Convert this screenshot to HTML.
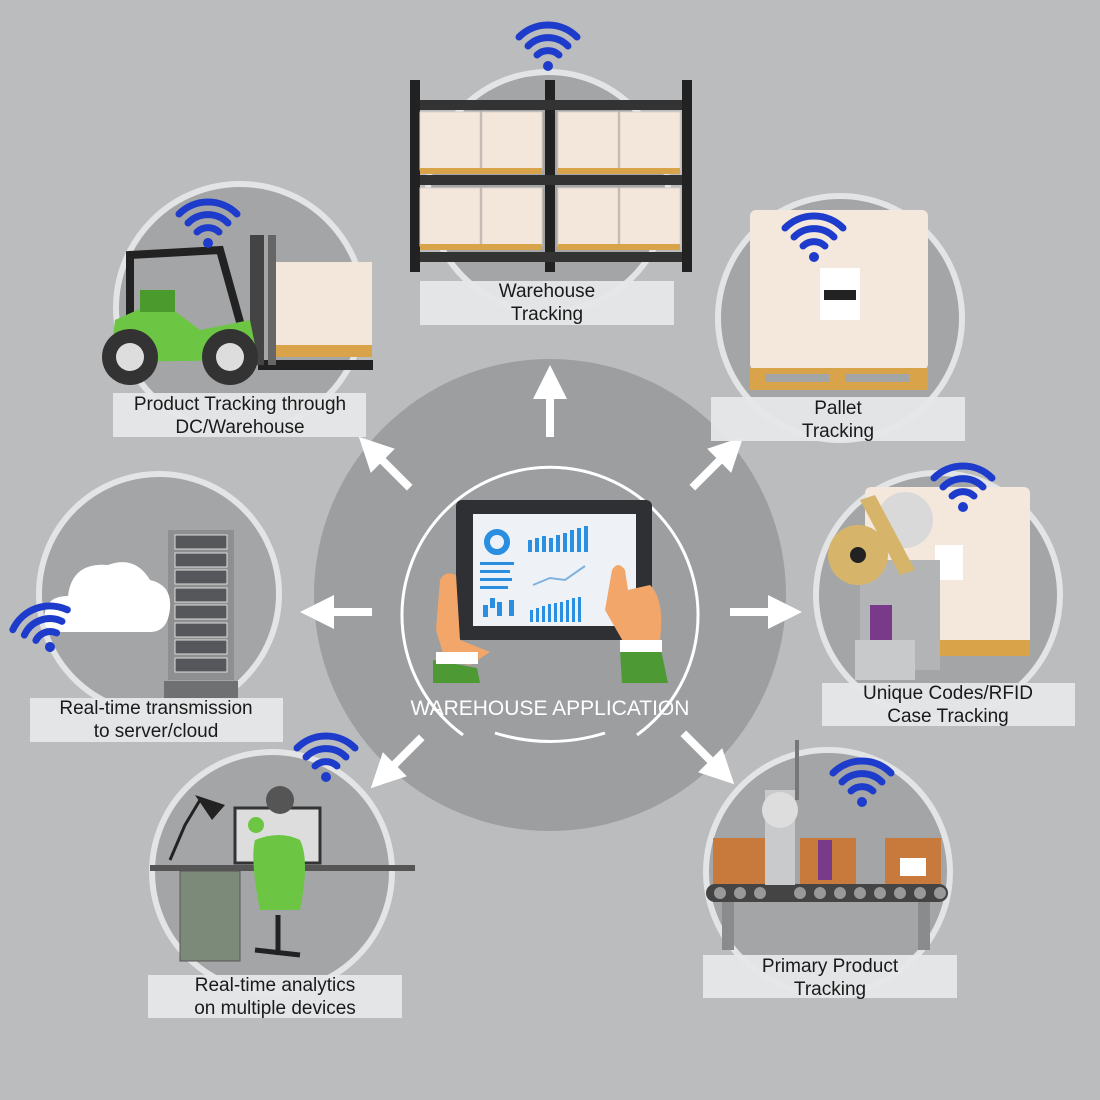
<!DOCTYPE html>
<html><head><meta charset="utf-8"><style>
html,body{margin:0;padding:0;background:#bbbcbe;}
svg{display:block}
text{font-family:"Liberation Sans",sans-serif;}
</style></head><body>
<svg width="1100" height="1100" viewBox="0 0 1100 1100" xmlns="http://www.w3.org/2000/svg">
<defs>
<g id="wifi" fill="none" stroke="#1e3ccc" stroke-width="7" stroke-linecap="round">
<circle cx="0" cy="0" r="5" fill="#1e3ccc" stroke="none"/>
<path d="M-11,-11 A16,16 0 0 1 11,-11"/>
<path d="M-20,-20 A28,28 0 0 1 20,-20"/>
<path d="M-29,-29 A41,41 0 0 1 29,-29"/>
</g>
<g id="arrow"><rect x="-4" y="0" width="8" height="42" fill="#fff"/><polygon points="-17,4 17,4 0,-30" fill="#fff"/></g>
</defs>
<rect width="1100" height="1100" fill="#bbbcbe"/>
<!-- central -->
<circle cx="550" cy="595" r="236" fill="#9d9ea0"/>
<path d="M463,735 A148,148 0 1 1 637,735" fill="none" stroke="#fff" stroke-width="3"/>
<path d="M495,733 Q550,750 605,733" fill="none" stroke="#fff" stroke-width="3"/>
<!-- outer circles -->
<g fill="#a4a5a7" stroke="#e3e4e6" stroke-width="6">
<circle cx="548" cy="192" r="120"/>
<circle cx="240" cy="308" r="124"/>
<circle cx="840" cy="318" r="122"/>
<circle cx="159" cy="594" r="120"/>
<circle cx="938" cy="595" r="122"/>
<circle cx="272" cy="872" r="120"/>
<circle cx="828" cy="872" r="122"/>
</g>
<!-- warehouse racks -->
<g>
<rect x="410" y="80" width="10" height="192" fill="#222"/>
<rect x="545" y="80" width="10" height="192" fill="#222"/>
<rect x="682" y="80" width="10" height="192" fill="#222"/>
<rect x="420" y="100" width="262" height="10" fill="#333"/>
<rect x="420" y="175" width="262" height="10" fill="#333"/>
<rect x="420" y="252" width="262" height="10" fill="#333"/>
<g fill="#f3e7dc" stroke="#e0d2c4">
<rect x="420" y="112" width="60" height="58"/><rect x="482" y="112" width="60" height="58"/>
<rect x="558" y="112" width="60" height="58"/><rect x="620" y="112" width="60" height="58"/>
<rect x="420" y="188" width="60" height="58"/><rect x="482" y="188" width="60" height="58"/>
<rect x="558" y="188" width="60" height="58"/><rect x="620" y="188" width="60" height="58"/>
</g>
<g fill="#d9a34a"><rect x="420" y="168" width="122" height="6"/><rect x="558" y="168" width="122" height="6"/><rect x="420" y="244" width="122" height="6"/><rect x="558" y="244" width="122" height="6"/></g>
</g>
<use href="#wifi" x="548" y="66"/>
<!-- forklift -->
<g>
<rect x="275" y="262" width="97" height="85" fill="#f3e7dc"/>
<rect x="275" y="345" width="97" height="12" fill="#d9a34a"/>
<rect x="258" y="360" width="115" height="10" fill="#222"/>
<rect x="250" y="235" width="14" height="130" fill="#444"/>
<rect x="268" y="235" width="8" height="130" fill="#666"/>
<path d="M130,330 L130,255 L220,250 L245,340 Z" fill="none" stroke="#222" stroke-width="8"/>
<path d="M115,320 L160,300 L200,330 L250,320 L258,360 L110,362 Z" fill="#6cc644"/>
<rect x="140" y="290" width="35" height="22" fill="#4a9a2e"/>
<circle cx="130" cy="357" r="28" fill="#333"/><circle cx="130" cy="357" r="14" fill="#ddd"/>
<circle cx="230" cy="357" r="28" fill="#333"/><circle cx="230" cy="357" r="14" fill="#ddd"/>
</g>
<use href="#wifi" x="208" y="243"/>
<!-- pallet -->
<g>
<rect x="750" y="210" width="178" height="160" rx="6" fill="#f4e8dd"/>
<rect x="750" y="368" width="178" height="22" fill="#d9a34a"/>
<rect x="765" y="374" width="65" height="8" fill="#a4a5a7"/><rect x="845" y="374" width="65" height="8" fill="#a4a5a7"/>
<rect x="820" y="268" width="40" height="52" fill="#fff"/>
<rect x="824" y="290" width="32" height="10" fill="#222"/>
</g>
<use href="#wifi" x="814" y="257"/>
<!-- cloud / server -->
<g>
<rect x="168" y="530" width="66" height="150" fill="#8e8f91"/>
<g fill="#55575a" stroke="#ddd" stroke-width="1">
<rect x="175" y="535" width="52" height="14"/><rect x="175" y="553" width="52" height="14"/><rect x="175" y="570" width="52" height="14"/><rect x="175" y="588" width="52" height="14"/><rect x="175" y="605" width="52" height="14"/><rect x="175" y="623" width="52" height="14"/><rect x="175" y="640" width="52" height="14"/><rect x="175" y="658" width="52" height="14"/>
</g>
<rect x="164" y="681" width="74" height="18" fill="#6f7072"/>
<path d="M60,632 Q40,632 45,612 Q48,596 68,596 Q72,562 108,565 Q135,555 150,580 Q172,585 170,608 Q168,632 150,632 Z" fill="#fff"/>
</g>
<use href="#wifi" x="50" y="647" transform="rotate(-20 50 647)"/>
<!-- unique codes -->
<g>
<rect x="865" y="487" width="165" height="160" rx="6" fill="#f4e8dd"/>
<rect x="915" y="640" width="115" height="16" fill="#d9a34a"/>
<rect x="935" y="545" width="28" height="35" fill="#fff"/>
<rect x="860" y="560" width="80" height="110" fill="#b3b4b6"/>
<rect x="870" y="605" width="22" height="50" fill="#7a3a8a"/>
<circle cx="858" cy="555" r="30" fill="#d6b56b"/><circle cx="858" cy="555" r="8" fill="#222"/>
<circle cx="905" cy="520" r="28" fill="#d9d9d9"/>
<path d="M860,500 L900,575 L915,570 L875,495 Z" fill="#d6b56b"/>
<rect x="855" y="640" width="60" height="40" fill="#c8c9cb"/>
</g>
<use href="#wifi" x="963" y="507"/>
<!-- analytics -->
<g>
<rect x="150" y="865" width="265" height="6" fill="#555"/>
<rect x="180" y="871" width="60" height="90" fill="#7c8a7a" stroke="#555"/>
<rect x="235" y="808" width="85" height="55" fill="#ddd" stroke="#333" stroke-width="3"/>
<circle cx="256" cy="825" r="8" fill="#6cc644"/>
<path d="M255,840 Q250,860 260,910 L300,910 Q310,860 300,840 Q280,830 255,840 Z" fill="#6cc644"/>
<circle cx="280" cy="800" r="14" fill="#555"/>
<path d="M170,860 L185,825 L200,800" fill="none" stroke="#222" stroke-width="3"/>
<path d="M195,795 L225,805 L212,820 Z" fill="#222"/>
<path d="M255,950 L300,955 M278,915 L278,955" stroke="#222" stroke-width="5"/>
</g>
<use href="#wifi" x="326" y="777"/>
<!-- primary product -->
<g>
<rect x="722" y="900" width="12" height="50" fill="#8a8b8d"/><rect x="918" y="900" width="12" height="50" fill="#8a8b8d"/>
<rect x="706" y="884" width="242" height="18" rx="9" fill="#444"/>
<g fill="#999"><circle cx="720" cy="893" r="6"/><circle cx="740" cy="893" r="6"/><circle cx="760" cy="893" r="6"/><circle cx="800" cy="893" r="6"/><circle cx="820" cy="893" r="6"/><circle cx="840" cy="893" r="6"/><circle cx="860" cy="893" r="6"/><circle cx="880" cy="893" r="6"/><circle cx="900" cy="893" r="6"/><circle cx="920" cy="893" r="6"/><circle cx="940" cy="893" r="6"/></g>
<g fill="#c77a3c"><rect x="713" y="838" width="56" height="46"/><rect x="800" y="838" width="56" height="46"/><rect x="885" y="838" width="56" height="46"/></g>
<rect x="900" y="858" width="26" height="18" fill="#fff"/>
<rect x="765" y="790" width="30" height="95" fill="#c9cacc"/>
<circle cx="780" cy="810" r="18" fill="#ddd"/>
<rect x="818" y="840" width="14" height="40" fill="#7a3a8a"/>
<rect x="795" y="740" width="4" height="60" fill="#777"/>
</g>
<use href="#wifi" x="862" y="802"/>
<!-- tablet -->
<g>
<rect x="456" y="500" width="196" height="140" rx="6" fill="#2e3033"/>
<rect x="473" y="514" width="163" height="112" fill="#eef2f6"/>
<circle cx="497" cy="542" r="10" fill="none" stroke="#2a8fe0" stroke-width="6"/>
<g fill="#2a8fe0"><rect x="528" y="540" width="4" height="12"/><rect x="535" y="538" width="4" height="14"/><rect x="542" y="536" width="4" height="16"/><rect x="549" y="538" width="4" height="14"/><rect x="556" y="535" width="4" height="17"/><rect x="563" y="533" width="4" height="19"/><rect x="570" y="530" width="4" height="22"/><rect x="577" y="528" width="4" height="24"/><rect x="584" y="526" width="4" height="26"/>
<rect x="480" y="562" width="34" height="3"/><rect x="480" y="570" width="30" height="3"/><rect x="480" y="578" width="32" height="3"/><rect x="480" y="586" width="28" height="3"/>
<rect x="483" y="605" width="5" height="12"/><rect x="490" y="598" width="5" height="10"/><rect x="497" y="602" width="5" height="14"/><rect x="509" y="600" width="5" height="16"/>
<rect x="530" y="610" width="3" height="12"/><rect x="536" y="608" width="3" height="14"/><rect x="542" y="606" width="3" height="16"/><rect x="548" y="604" width="3" height="18"/><rect x="554" y="603" width="3" height="19"/><rect x="560" y="602" width="3" height="20"/><rect x="566" y="600" width="3" height="22"/><rect x="572" y="598" width="3" height="24"/><rect x="578" y="597" width="3" height="25"/>
</g>
<path d="M533,585 L550,578 L565,580 L585,566" fill="none" stroke="#7fb2e0" stroke-width="2"/>
<path d="M440,580 Q445,570 456,575 L460,640 L490,652 L470,665 L445,660 L436,630 Z" fill="#f2a66a"/>
<path d="M612,570 Q618,560 625,570 L628,590 L650,585 Q665,600 660,640 L628,650 L605,610 Z" fill="#f2a66a"/>
<path d="M433,660 L477,668 L480,683 L433,683 Z" fill="#4d9a35"/>
<path d="M620,650 L660,645 L668,683 L622,683 Z" fill="#4d9a35"/>
<rect x="620" y="640" width="42" height="12" fill="#fff"/>
<rect x="436" y="652" width="42" height="12" fill="#fff"/>
</g>
<text x="550" y="715" text-anchor="middle" fill="#fff" font-size="21">WAREHOUSE APPLICATION</text>
<!-- arrows -->
<use href="#arrow" transform="translate(550,395)"/>
<use href="#arrow" transform="translate(380,458) rotate(-45)"/>
<use href="#arrow" transform="translate(722,458) rotate(45)"/>
<use href="#arrow" transform="translate(330,612) rotate(-90)"/>
<use href="#arrow" transform="translate(772,612) rotate(90)"/>
<use href="#arrow" transform="translate(392,767) rotate(-135)"/>
<use href="#arrow" transform="translate(713,763) rotate(135)"/>
<!-- labels -->
<g fill="#e6e7e8" opacity="0.95">
<rect x="420" y="281" width="254" height="44"/>
<rect x="113" y="393" width="253" height="44"/>
<rect x="711" y="397" width="254" height="44"/>
<rect x="30" y="698" width="253" height="44"/>
<rect x="822" y="683" width="253" height="43"/>
<rect x="148" y="975" width="254" height="43"/>
<rect x="703" y="955" width="254" height="43"/>
</g>
<g font-size="19" fill="#1a1a1a" text-anchor="middle">
<text x="547" y="297">Warehouse</text><text x="547" y="320">Tracking</text>
<text x="240" y="410">Product Tracking through</text><text x="240" y="433">DC/Warehouse</text>
<text x="838" y="414">Pallet</text><text x="838" y="437">Tracking</text>
<text x="156" y="714">Real-time transmission</text><text x="156" y="737">to server/cloud</text>
<text x="948" y="699">Unique Codes/RFID</text><text x="948" y="722">Case Tracking</text>
<text x="275" y="991">Real-time analytics</text><text x="275" y="1014">on multiple devices</text>
<text x="830" y="972">Primary Product</text><text x="830" y="995">Tracking</text>
</g>
</svg>
</body></html>
